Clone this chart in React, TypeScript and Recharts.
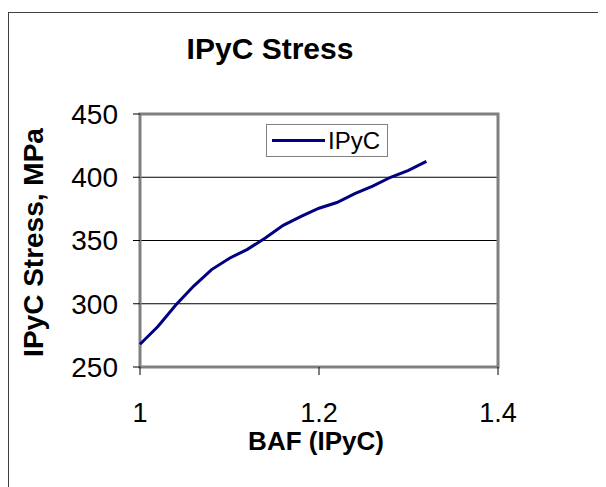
import {
  CartesianGrid,
  Line,
  LineChart,
  ReferenceArea,
  XAxis,
  YAxis,
} from "recharts";

const baf = [1.0, 1.02, 1.04, 1.06, 1.08, 1.1, 1.12, 1.14, 1.16, 1.18, 1.2, 1.22, 1.24, 1.26, 1.28, 1.3, 1.32];
const ipycStress = [268, 282, 299, 314, 327, 336, 343, 352, 362, 369, 375.5, 380, 387, 393, 400, 405.5, 412.5];
const xTicks = [1, 1.2, 1.4];
const yTicks = [250, 300, 350, 400, 450];

const data = baf.map((b, i) => ({ baf: b, IPyC: ipycStress[i] }));

const FONT = '"Liberation Sans", Arial, sans-serif';
const NAVY = "#000080";

function LegendBox() {
  return (
    <div
      style={{
        position: "absolute",
        left: 257,
        top: 111,
        display: "flex",
        alignItems: "center",
        width: 122,
        height: 33,
        border: "1px solid #808080",
        background: "#fff",
        fontFamily: FONT,
        fontSize: 24,
        color: "#000",
        boxSizing: "border-box",
      }}
    >
      <span style={{ display: "inline-block", width: 53, height: 3, background: NAVY, marginLeft: 5, marginRight: 3 }} />
      <span>IPyC</span>
    </div>
  );
}

export default function App() {
  return (
    <div
      style={{
        position: "relative",
        marginTop: 4,
        width: 598,
        height: 475,
        borderTop: "1px solid #404040",
        borderLeft: "1px solid #404040",
        background: "#fff",
        fontFamily: FONT,
      }}
    >
      <div
        style={{
          position: "absolute",
          left: 0,
          width: 522,
          top: 21,
          textAlign: "center",
          fontSize: 30,
          lineHeight: 1,
          fontWeight: "bold",
          color: "#000",
        }}
      >
        IPyC Stress
      </div>
      <LineChart
        width={597}
        height={474}
        data={data}
        margin={{ top: 101, right: 108, bottom: 60, left: 0 }}
      >
        <CartesianGrid vertical={false} stroke="#000" strokeWidth={1} />
        <ReferenceArea
          x1={1}
          x2={1.4}
          y1={250}
          y2={450}
          fill="none"
          stroke="#808080"
          strokeWidth={3}
          ifOverflow="visible"
        />
        <XAxis
          dataKey="baf"
          type="number"
          domain={[1, 1.4]}
          ticks={xTicks}
          axisLine={false}
          tickLine={{ stroke: "#000" }}
          tickSize={8}
          tickMargin={28}
          height={60}
          tick={{ fill: "#000", fontSize: 27, fontFamily: FONT }}
          label={{
            content: (props: any) => {
              const vb = props.viewBox;
              return (
                <text
                  x={vb.x + vb.width / 2 - 3}
                  y={437}
                  textAnchor="middle"
                  fontSize={26}
                  fontWeight="bold"
                  fontFamily={FONT}
                  fill="#000"
                >
                  BAF (IPyC)
                </text>
              );
            },
          }}
        />
        <YAxis
          type="number"
          domain={[250, 450]}
          ticks={yTicks}
          width={131}
          axisLine={false}
          tickLine={{ stroke: "#000" }}
          tickSize={7}
          tickMargin={15}
          tick={{ fill: "#000", fontSize: 28, fontFamily: FONT }}
          label={{
            content: (props: any) => {
              const vb = props.viewBox;
              const cx = 24;
              const cy = vb.y + vb.height / 2 + 2;
              return (
                <text
                  x={cx}
                  y={cy}
                  transform={`rotate(-90 ${cx} ${cy})`}
                  textAnchor="middle"
                  dominantBaseline="central"
                  fontSize={28}
                  fontWeight="bold"
                  fontFamily={FONT}
                  fill="#000"
                >
                  IPyC Stress, MPa
                </text>
              );
            },
          }}
        />
        <Line
          type="linear"
          dataKey="IPyC"
          stroke={NAVY}
          strokeWidth={3}
          dot={false}
          isAnimationActive={false}
        />
      </LineChart>
      <LegendBox />
    </div>
  );
}
